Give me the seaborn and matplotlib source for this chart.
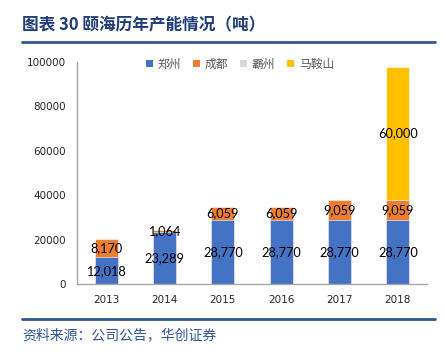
import pandas as pd
import matplotlib.pyplot as plt
import seaborn as sns
from matplotlib.patches import Patch
from matplotlib.lines import Line2D

years = ['2013', '2014', '2015', '2016', '2017', '2018']
zhengzhou = [12018, 23289, 28770, 28770, 28770, 28770]
chengdu = [8170, 1064, 6059, 6059, 9059, 9059]
bazhou = [0, 0, 0, 0, 0, 0]
maanshan = [0, 0, 0, 0, 0, 60000]

names = ['郑州', '成都', '霸州', '马鞍山']
colors = ['#4472C4', '#ED7D31', '#D9D9D9', '#FFC000']

df = pd.DataFrame({'year': years, '郑州': zhengzhou, '成都': chengdu,
                   '霸州': bazhou, '马鞍山': maanshan})
cum = df[names].cumsum(axis=1)
cum['year'] = df['year']

sns.set_style('white')
plt.rcParams['font.family'] = ['Noto Sans CJK SC', 'DejaVu Sans']

fig = plt.figure(figsize=(4.44, 3.56), dpi=100)
ax = fig.add_axes([77/444, 1-284/356, 350/444, 222/356])

# stacked bars: draw cumulative totals from the top layer down
for name, c in reversed(list(zip(names, colors))):
    sns.barplot(data=cum, x='year', y=name, color=c, width=0.39,
                saturation=1, edgecolor='white', linewidth=0.4, ax=ax)

# data labels in the middle of each segment
for i in range(len(years)):
    base = 0
    for name in names:
        v = df[name][i]
        if v > 0:
            ax.text(i, base + v/2, f'{v:,}', ha='center', va='center',
                    fontsize=9.2, color='black', family=['Lato'])
        base += v

ax.set_ylim(0, 100000)
ax.set_xlim(-0.5, 5.5)
ax.set_yticks([0, 20000, 40000, 60000, 80000, 100000])
ax.set_yticklabels(['0', '20000', '40000', '60000', '80000', '100000'])
ax.set_xlabel('')
ax.set_ylabel('')
ax.set_xticks([-0.5, 0.5, 1.5, 2.5, 3.5, 4.5, 5.5], minor=True)
ax.tick_params(axis='x', which='major', length=0, pad=8, labelsize=7.5)
ax.tick_params(axis='x', which='minor', length=4, color='#A6A6A6', direction='out')
ax.tick_params(axis='y', length=4, color='#A6A6A6', direction='out', labelsize=7.5, pad=4)
for lbl in ax.get_xticklabels() + ax.get_yticklabels():
    lbl.set_family(['DejaVu Sans'])
sns.despine(ax=ax)
for s in ['left', 'bottom']:
    ax.spines[s].set_color('#A6A6A6')
    ax.spines[s].set_linewidth(1)

handles = [Patch(facecolor=c, edgecolor='none') for c in colors]
fig.legend(handles, names, loc='center', bbox_to_anchor=(240/444, 1-64/356),
           ncol=4, frameon=False, fontsize=8.5, handlelength=0.6, handleheight=0.6,
           handletextpad=0.4, columnspacing=1.0, labelcolor='#595959')

# title and source
navy = '#1F3D7A'
fig.text(22/444, 1-25/356, '图表 30 颐海历年产能情况（吨）', fontsize=12,
         fontweight='bold', color=navy, va='center', ha='left')
fig.add_artist(Line2D([22/444, 435/444], [1-42/356, 1-42/356],
                      color='#2F5597', lw=2))
fig.add_artist(Line2D([22/444, 435/444], [1-319/356, 1-319/356],
                      color='#2F5597', lw=2))
fig.text(22/444, 1-335/356, '资料来源：公司公告，华创证券', fontsize=10,
         color='#2F5597', va='center', ha='left', style='italic')

fig.savefig('out.png', dpi=100)
